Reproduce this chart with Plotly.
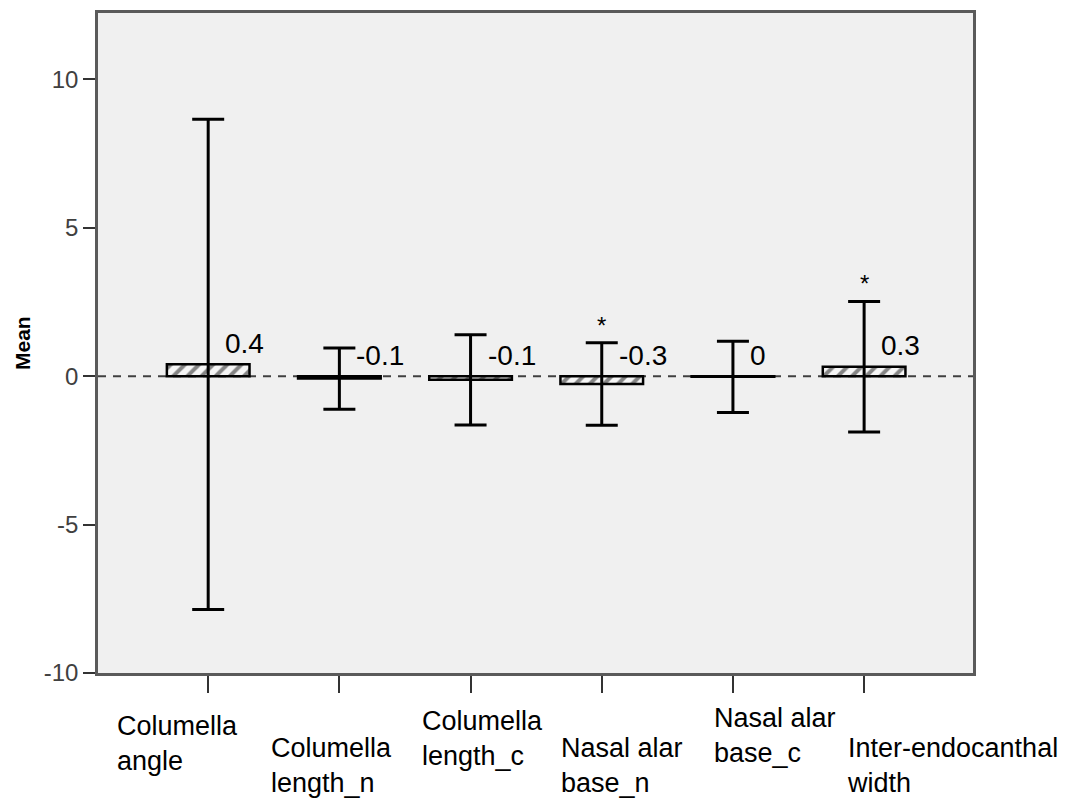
import plotly.graph_objects as go

# ---- data ----
categories = ["Columella angle", "Columella length_n", "Columella length_c",
              "Nasal alar base_n", "Nasal alar base_c", "Inter-endocanthal width"]
tick_labels = ["Columella<br>angle", "Columella<br>length_n", "Columella<br>length_c",
               "Nasal alar<br>base_n", "Nasal alar<br>base_c", "Inter-endocanthal<br>width"]
means = [0.40, -0.08, -0.12, -0.26, -0.02, 0.32]
errors = [8.26, 1.03, 1.52, 1.39, 1.20, 2.20]
value_labels = ["0.4", "-0.1", "-0.1", "-0.3", "0", "0.3"]
significant = [False, False, False, True, False, True]
y_ticks = [-10, -5, 0, 5, 10]

# ---- layout helpers (style only) ----
label_xshift = [-93, -70, -51, -43, -21, -19]
label_yshift = [-36, -58, -31, -58, -28, -58]
FONT = "Liberation Sans, Arial, sans-serif"
NARROW = "Liberation Sans Narrow, Arial Narrow, Liberation Sans, sans-serif"

fig = go.Figure()
fig.add_trace(go.Bar(
    x=categories, y=means, width=0.63,
    marker=dict(color="#f6f6f6",
                line=dict(color="black", width=2.5),
                pattern=dict(shape="/", fgcolor="#111111", bgcolor="#f6f6f6",
                             size=10, solidity=0.4)),
    error_y=dict(type="data", array=errors, visible=True,
                 thickness=3, width=16, color="black"),
    showlegend=False, hoverinfo="skip",
))

annotations = []
for i, cat in enumerate(categories):
    annotations.append(dict(
        x=cat, y=max(means[i], 0) + 0.7, xref="x", yref="y",
        text=value_labels[i], showarrow=False, xanchor="left", yanchor="middle",
        xshift=15, font=dict(family=FONT, size=28, color="black")))
    if significant[i]:
        annotations.append(dict(
            x=cat, y=means[i] + errors[i], xref="x", yref="y",
            text="*", showarrow=False, xanchor="center", yanchor="bottom",
            yshift=2, font=dict(family=FONT, size=24, color="black")))
    annotations.append(dict(
        x=cat, y=0, xref="x", yref="paper", text=tick_labels[i],
        showarrow=False, xanchor="left", yanchor="top", align="left",
        xshift=label_xshift[i], yshift=label_yshift[i],
        font=dict(family=FONT, size=27, color="black")))

annotations.append(dict(
    x=0, y=0.5, xref="paper", yref="paper", text="<b>Mean</b>", textangle=-90,
    showarrow=False, xanchor="center", yanchor="middle", xshift=-76,
    font=dict(family=FONT, size=21, color="black")))

fig.update_layout(
    width=1067, height=804,
    margin=dict(l=98, r=94, t=10, b=131),
    paper_bgcolor="white", plot_bgcolor="#f0f0f0",
    annotations=annotations,
    shapes=[dict(type="line", xref="paper", yref="y", x0=0, x1=1, y0=0, y1=0,
                 line=dict(color="#404040", width=2, dash="8px,7px"), layer="below")],
    font=dict(family=FONT),
)
fig.update_xaxes(
    type="category", range=[-0.84, 5.83], showticklabels=False,
    ticks="outside", ticklen=17, tickwidth=2, tickcolor="#333333",
    showline=True, mirror=True, linecolor="#5a5a5a", linewidth=2.5,
    showgrid=False, zeroline=False)
fig.update_yaxes(
    range=[-10, 12.24], tickvals=y_ticks, ticktext=[str(v) for v in y_ticks],
    ticks="outside", ticklen=12, tickwidth=2, tickcolor="#333333",
    tickfont=dict(family=NARROW, size=24, color="#404040"),
    showline=True, mirror=True, linecolor="#5a5a5a", linewidth=2.5,
    showgrid=False, zeroline=False)

fig.write_html(
    "out.html",
    config={"displayModeBar": False},
    post_script="document.body.style.margin='0px';document.body.style.overflow='hidden';",
)
